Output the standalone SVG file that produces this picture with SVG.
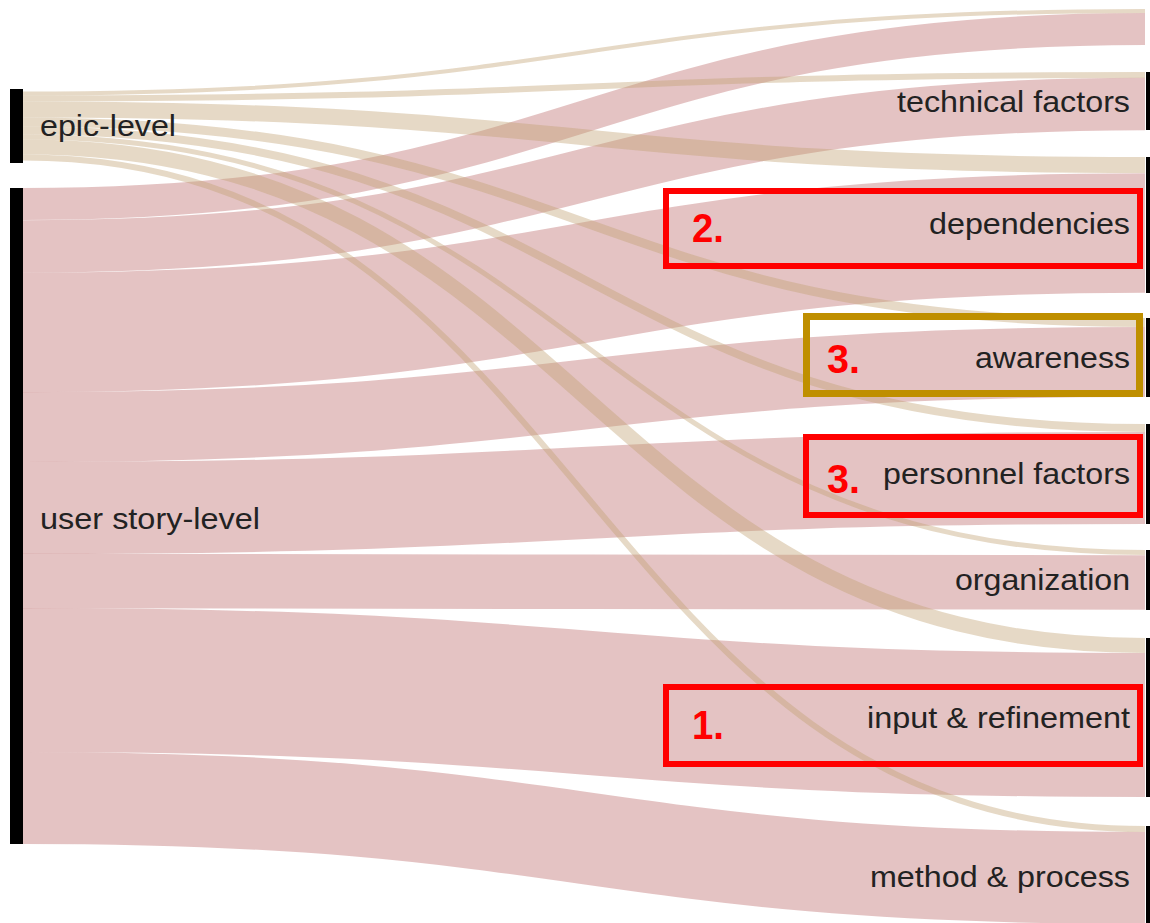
<svg xmlns="http://www.w3.org/2000/svg" width="1150" height="923" viewBox="0 0 1150 923">
<style>
.lk{fill:none;stroke-opacity:0.4}
.us{stroke:#bb6969}
.ep{stroke:#c0a070}
.bar{fill:#000}
.lbl{font-family:"Liberation Sans",Arial,sans-serif;font-size:29px;fill:#222}
.num{font-family:"Liberation Sans",Arial,sans-serif;font-size:40px;font-weight:bold;fill:#ff0000}
.rbox{fill:none;stroke:#ff0000;stroke-width:6}
.gbox{fill:none;stroke:#bf8f00;stroke-width:7}
</style>
<rect width="1150" height="923" fill="#fff"/>
<g id="connectors">
<path class="lk us" stroke-width="32" d="M23,204 C584,204 584,29 1145,29"/>
<path class="lk us" stroke-width="52.5" d="M23,246.5 C584,246.5 584,104 1145,104"/>
<path class="lk us" stroke-width="119.5" d="M23,332.5 C584,332.5 584,233 1145,233"/>
<path class="lk us" stroke-width="70" d="M23,427 C584,427 584,362 1145,362"/>
<path class="lk us" stroke-width="92" d="M23,508 C584,508 584,478 1145,478"/>
<path class="lk us" stroke-width="54.5" d="M23,581 C584,581 584,582.5 1145,582.5"/>
<path class="lk us" stroke-width="144" d="M23,680 C584,680 584,725 1145,725"/>
<path class="lk us" stroke-width="92" d="M23,798 C584,798 584,878 1145,878"/>
<path class="lk ep" stroke-width="4" d="M23,93.5 C584,93.5 584,11 1145,11"/>
<path class="lk ep" stroke-width="6" d="M23,98.5 C584,98.5 584,75 1145,75"/>
<path class="lk ep" stroke-width="16" d="M23,109.5 C584,109.5 584,165 1145,165"/>
<path class="lk ep" stroke-width="9" d="M23,122 C584,122 584,322.5 1145,322.5"/>
<path class="lk ep" stroke-width="8" d="M23,130.5 C584,130.5 584,428 1145,428"/>
<path class="lk ep" stroke-width="5" d="M23,137 C584,137 584,552.5 1145,552.5"/>
<path class="lk ep" stroke-width="15" d="M23,147 C584,147 584,645.5 1145,645.5"/>
<path class="lk ep" stroke-width="6" d="M23,157.5 C584,157.5 584,829 1145,829"/>
</g>
<g id="node-epic-level">
<rect class="bar" x="10" y="89" width="13" height="74"/>
<text class="lbl" x="40" y="136" textLength="136" lengthAdjust="spacingAndGlyphs">epic-level</text>
</g>
<g id="node-user-story-level">
<rect class="bar" x="10" y="188" width="13" height="656"/>
<text class="lbl" x="40" y="529" textLength="220" lengthAdjust="spacingAndGlyphs">user story-level</text>
</g>
<g id="node-technical-factors">
<rect class="bar" x="1146" y="72" width="6" height="58"/>
<text class="lbl" x="1130" y="112" text-anchor="end" textLength="233" lengthAdjust="spacingAndGlyphs">technical factors</text>
</g>
<g id="node-dependencies">
<rect class="bar" x="1146" y="157" width="6" height="136"/>
<text class="lbl" x="1130" y="234" text-anchor="end" textLength="201" lengthAdjust="spacingAndGlyphs">dependencies</text>
</g>
<g id="node-awareness">
<rect class="bar" x="1146" y="318" width="6" height="79"/>
<text class="lbl" x="1130" y="368" text-anchor="end" textLength="155" lengthAdjust="spacingAndGlyphs">awareness</text>
</g>
<g id="node-personnel-factors">
<rect class="bar" x="1146" y="424" width="6" height="100"/>
<text class="lbl" x="1130" y="484" text-anchor="end" textLength="247" lengthAdjust="spacingAndGlyphs">personnel factors</text>
</g>
<g id="node-organization">
<rect class="bar" x="1146" y="550" width="6" height="60"/>
<text class="lbl" x="1130" y="590" text-anchor="end" textLength="175" lengthAdjust="spacingAndGlyphs">organization</text>
</g>
<g id="node-input-refinement">
<rect class="bar" x="1146" y="638" width="6" height="159"/>
<text class="lbl" x="1130" y="728" text-anchor="end" textLength="263" lengthAdjust="spacingAndGlyphs">input &amp; refinement</text>
</g>
<g id="node-method-process">
<rect class="bar" x="1146" y="826" width="6" height="100"/>
<text class="lbl" x="1130" y="887" text-anchor="end" textLength="260" lengthAdjust="spacingAndGlyphs">method &amp; process</text>
</g>
<g id="annotations">
<rect class="rbox" x="666" y="191" width="474" height="75"/>
<text class="num" x="692" y="242" textLength="32" lengthAdjust="spacingAndGlyphs">2.</text>
<rect class="gbox" x="806.5" y="316.5" width="333" height="77"/>
<text class="num" x="827" y="373" textLength="33" lengthAdjust="spacingAndGlyphs">3.</text>
<rect class="rbox" x="806" y="437" width="334" height="78"/>
<text class="num" x="827" y="493" textLength="33" lengthAdjust="spacingAndGlyphs">3.</text>
<rect class="rbox" x="666" y="687" width="474" height="77"/>
<text class="num" x="692" y="739" textLength="32" lengthAdjust="spacingAndGlyphs">1.</text>
</g>
</svg>
